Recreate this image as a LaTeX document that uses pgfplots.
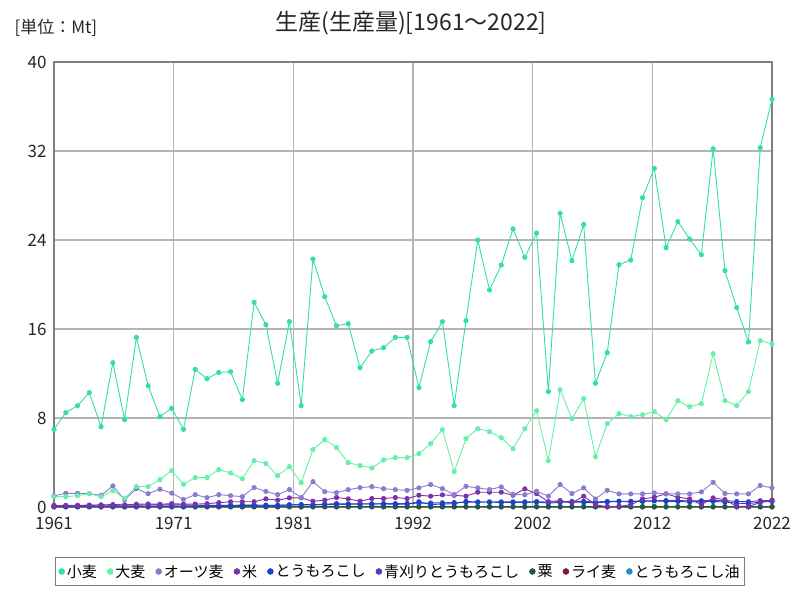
\documentclass[border=0pt]{standalone}
\usepackage{fontspec}
\setmainfont{Noto Sans CJK JP}
\usepackage{pgfplots}
\usepackage{pgfplotstable}
\pgfplotsset{compat=1.18}
\definecolor{cWheat}{HTML}{33E0A4}
\definecolor{cBarley}{HTML}{66F0A8}
\definecolor{cOats}{HTML}{8C7CD0}
\definecolor{cRice}{HTML}{8030A8}
\definecolor{cMaize}{HTML}{1048C8}
\definecolor{cGreen}{HTML}{5838C0}
\definecolor{cMillet}{HTML}{1E5E40}
\definecolor{cRye}{HTML}{7A1E3C}
\definecolor{cOil}{HTML}{2888C0}
\definecolor{cGrid}{HTML}{B4B4B4}
\definecolor{cFrame}{HTML}{808080}
\pgfplotstableread{
year wheat barley oats rice maize green millet rye oil
1961 6.98 0.93 1.00 0.13 0.13 0.05 0.03 0.02 0.005
1962 8.48 0.93 1.23 0.14 0.12 0.05 0.03 0.02 0.005
1963 9.11 1.02 1.23 0.15 0.13 0.05 0.03 0.02 0.005
1964 10.28 1.20 1.20 0.17 0.14 0.06 0.03 0.02 0.005
1965 7.22 0.93 1.05 0.19 0.17 0.06 0.02 0.02 0.005
1966 12.97 1.47 1.90 0.22 0.15 0.06 0.03 0.02 0.005
1967 7.85 0.78 0.65 0.20 0.16 0.06 0.02 0.01 0.005
1968 15.25 1.83 1.65 0.25 0.17 0.07 0.04 0.02 0.005
1969 10.90 1.83 1.20 0.27 0.18 0.07 0.04 0.02 0.005
1970 8.12 2.46 1.60 0.25 0.19 0.08 0.04 0.02 0.005
1971 8.87 3.27 1.25 0.30 0.20 0.08 0.04 0.02 0.005
1972 6.98 2.04 0.68 0.26 0.18 0.08 0.03 0.02 0.005
1973 12.37 2.64 1.11 0.26 0.15 0.09 0.04 0.02 0.005
1974 11.53 2.64 0.84 0.30 0.14 0.09 0.04 0.02 0.005
1975 12.10 3.36 1.11 0.39 0.15 0.10 0.04 0.02 0.005
1976 12.16 3.06 1.02 0.47 0.15 0.12 0.04 0.02 0.005
1977 9.65 2.55 0.93 0.47 0.17 0.14 0.04 0.02 0.005
1978 18.40 4.17 1.75 0.47 0.17 0.15 0.05 0.02 0.005
1979 16.39 3.90 1.40 0.73 0.15 0.16 0.05 0.02 0.005
1980 11.12 2.82 1.11 0.61 0.14 0.16 0.04 0.02 0.005
1981 16.67 3.63 1.57 0.82 0.20 0.18 0.05 0.02 0.005
1982 9.11 2.19 0.84 0.82 0.22 0.18 0.04 0.02 0.005
1983 22.29 5.16 2.28 0.52 0.20 0.20 0.05 0.03 0.005
1984 18.90 6.06 1.38 0.61 0.25 0.22 0.05 0.03 0.005
1985 16.30 5.34 1.29 0.85 0.30 0.24 0.05 0.03 0.005
1986 16.48 3.99 1.56 0.73 0.28 0.24 0.04 0.03 0.005
1987 12.52 3.72 1.74 0.52 0.30 0.26 0.04 0.02 0.005
1988 14.02 3.51 1.83 0.76 0.27 0.28 0.05 0.02 0.005
1989 14.32 4.23 1.65 0.76 0.28 0.30 0.05 0.02 0.005
1990 15.25 4.44 1.56 0.85 0.24 0.30 0.04 0.02 0.005
1991 15.25 4.44 1.50 0.76 0.25 0.32 0.04 0.02 0.005
1992 10.73 4.80 1.72 1.06 0.47 0.34 0.04 0.02 0.005
1993 14.86 5.69 2.02 0.97 0.22 0.36 0.04 0.02 0.005
1994 16.66 6.95 1.65 1.09 0.27 0.38 0.04 0.02 0.005
1995 9.11 3.17 1.12 1.05 0.30 0.40 0.03 0.02 0.005
1996 16.75 6.14 1.86 0.97 0.50 0.42 0.04 0.02 0.005
1997 24.00 7.04 1.72 1.33 0.45 0.44 0.04 0.02 0.005
1998 19.50 6.77 1.57 1.33 0.45 0.45 0.04 0.02 0.005
1999 21.75 6.23 1.81 1.33 0.40 0.46 0.04 0.02 0.005
2000 25.00 5.24 1.12 1.06 0.42 0.46 0.04 0.02 0.005
2001 22.44 7.04 1.10 1.63 0.40 0.47 0.04 0.02 0.005
2002 24.63 8.66 1.42 1.20 0.45 0.48 0.04 0.02 0.005
2003 10.37 4.16 0.97 0.47 0.35 0.46 0.03 0.02 0.005
2004 26.40 10.54 2.02 0.58 0.42 0.48 0.04 0.02 0.005
2005 22.14 7.94 1.21 0.37 0.45 0.50 0.04 0.02 0.005
2006 25.40 9.74 1.72 0.97 0.42 0.50 0.04 0.02 0.005
2007 11.12 4.52 0.73 0.20 0.38 0.46 0.03 0.02 0.005
2008 13.87 7.49 1.50 0.02 0.45 0.50 0.03 0.02 0.005
2009 21.78 8.39 1.18 0.06 0.50 0.52 0.03 0.02 0.005
2010 22.20 8.12 1.18 0.20 0.48 0.52 0.03 0.02 0.005
2011 27.80 8.30 1.18 0.73 0.50 0.54 0.03 0.02 0.005
2012 30.44 8.57 1.27 0.88 0.55 0.56 0.03 0.02 0.005
2013 23.31 7.85 1.18 1.18 0.50 0.58 0.03 0.02 0.005
2014 25.65 9.56 1.18 0.88 0.50 0.58 0.03 0.02 0.005
2015 24.09 9.02 1.18 0.73 0.45 0.56 0.03 0.02 0.005
2016 22.68 9.29 1.36 0.20 0.50 0.56 0.03 0.02 0.005
2017 32.20 13.78 2.22 0.82 0.50 0.60 0.03 0.02 0.005
2018 21.24 9.56 1.21 0.67 0.45 0.58 0.03 0.02 0.005
2019 17.92 9.11 1.18 0.05 0.35 0.50 0.02 0.02 0.005
2020 14.83 10.37 1.18 0.05 0.30 0.48 0.02 0.02 0.005
2021 32.30 14.96 1.93 0.40 0.45 0.56 0.03 0.02 0.005
2022 36.65 14.65 1.72 0.60 0.50 0.60 0.03 0.02 0.005
}\datatable
\begin{document}
\begin{tikzpicture}
\path[use as bounding box] (-54pt,-93pt) rectangle (746pt,507pt);
\node[anchor=center, font=\fontsize{23}{23}\selectfont, text=black!85] at (357pt,484pt) {生産(生産量)[1961～2022]};
\node[anchor=west, font=\fontsize{17}{17}\selectfont, text=black!85] at (-43pt,479pt) {[単位：Mt]};
\begin{axis}[
  at={(0pt,0pt)}, anchor=south west,
  scale only axis, width=718pt, height=445pt,
  xmin=1961, xmax=2022, ymin=0, ymax=40,
  xtick={1961,1971.1667,1981.3333,1991.5,2001.6667,2011.8333,2022},
  xticklabels={1961,1971,1981,1992,2002,2012,2022},
  ytick={0,8,16,24,32,40},
  grid=major,
  major grid style={draw=cGrid, line width=1.3pt},
  axis line style={draw=cFrame, line width=1.6pt},
  tick style={draw=none},
  /pgf/number format/assume math mode=true,
  ticklabel style={font=\fontsize{17}{17}\selectfont, text=black!85},
  xticklabel style={yshift=-7pt},
  yticklabel style={xshift=-4pt},
  every axis plot/.append style={line width=0.9pt, mark=*, mark size=2.1pt},
  legend columns=9,
  reverse legend,
  legend style={at={(0.482,-0.112)}, anchor=north, draw=cFrame, line width=1.2pt,
    font=\fontsize{15}{16}\selectfont, inner ysep=5pt, inner xsep=3pt,
    /tikz/every even column/.append style={column sep=8pt}},
  legend image code/.code={\fill[#1] (0.12cm,0cm) circle (2.8pt);},
  clip=true,
]
\addplot[color=cOil] table[x=year,y=oil] {\datatable};
\addplot[color=cRye] table[x=year,y=rye] {\datatable};
\addplot[color=cMillet] table[x=year,y=millet] {\datatable};
\addplot[color=cGreen] table[x=year,y=green] {\datatable};
\addplot[color=cMaize] table[x=year,y=maize] {\datatable};
\addplot[color=cRice] table[x=year,y=rice] {\datatable};
\addplot[color=cOats] table[x=year,y=oats] {\datatable};
\addplot[color=cBarley] table[x=year,y=barley] {\datatable};
\addplot[color=cWheat] table[x=year,y=wheat] {\datatable};
\legend{とうもろこし油,ライ麦,粟,青刈りとうもろこし,とうもろこし,米,オーツ麦,大麦,小麦}
\end{axis}
\end{tikzpicture}
\end{document}
